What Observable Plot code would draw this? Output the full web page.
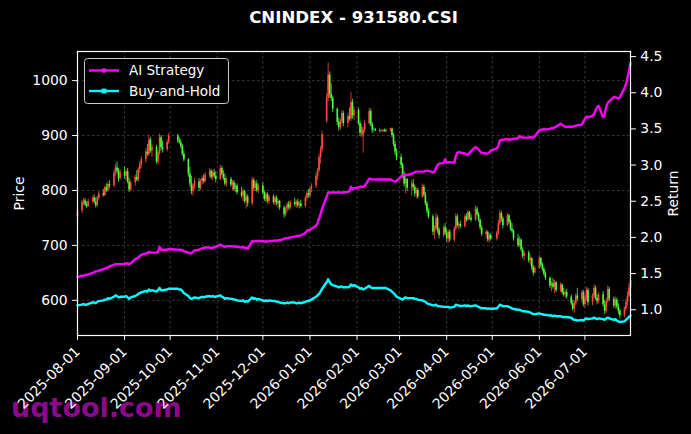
<!DOCTYPE html>
<html>
<head>
<meta charset="utf-8">
<script src="https://cdn.jsdelivr.net/npm/d3@7"></script>
<script src="https://cdn.jsdelivr.net/npm/@observablehq/plot@0.6"></script>
<style>
  html, body { margin: 0; padding: 0; background: #000; }
  #wrap { position: relative; width: 691px; height: 434px; overflow: hidden; background: #000; font-family: "DejaVu Sans", sans-serif; }
  #title { position: absolute; left: 77px; width: 553px; top: 8px; text-align: center; color: #fff; font-weight: bold; font-size: 16.6px; line-height: 20px; z-index: 3; }
  #wm { position: absolute; left: 11px; top: 391px; color: #8b0a8b; font-weight: bold; font-size: 27px; line-height: 34px; z-index: 1; }
  #chart { position: absolute; left: 0; top: 0; z-index: 2; }
  #legend { position: absolute; left: 84px; top: 58px; z-index: 4; }
</style>
</head>
<body>
<div id="wrap">
  <div id="wm">uqtool.com</div>
  <div id="chart"></div>
  <div id="title">CNINDEX - 931580.CSI</div>
  <div id="legend"></div>
</div>
<script>
// ---- data ----
const holidays = ["2025-10-01", "2025-10-02", "2025-10-03", "2026-05-01"];

const open = [
  752,763,778,781,774,771,780,786,779,772,786,794,791,805,800,811,808,832,841,835,822,
  833,826,834,815,801,814,824,819,838,848,856,870,866,892,872,878,852,868,896,878,874,888,
  899,890,887,880,866,856,830,812,798,808,816,804,817,822,816,828,835,824,832,826,
  820,840,830,822,812,820,810,814,802,808,796,790,798,780,788,776,818,804,812,800,
  808,796,784,792,780,788,778,786,776,780,768,756,766,774,768,778,774,779,772,776,771,786,794,
  790,802,808,826,836,860,874,926,968,1010,975,968,948,924,914,926,940,922,934,930,960,936,
  946,922,904,900,910,922,944,920,910,911,909,908,908,909,907,910,912,900,884,870,
  860,846,828,812,820,804,812,806,794,800,788,806,792,776,762,752,724,730,750,728,718,732,
  722,712,724,710,730,752,736,738,734,752,746,760,750,746,766,756,746,732,720,724,710,718,
  712,722,740,758,748,736,754,742,730,726,712,700,710,692,680,686,672,676,660,650,
  658,676,664,656,648,640,626,630,624,632,618,628,614,610,614,606,594,584,594,608,602,614,
  592,604,618,596,608,622,604,598,610,592,580,598,620,602,590,600,588,580,572,584,596,608,622
];
const high = [
  768,782,786,785,779,784,790,792,787,790,798,802,808,812,815,818,836,848,852,840,838,
  843,838,840,822,818,828,836,842,852,862,876,884,900,896,884,882,872,903,900,890,892,904,
  902,896,893,884,872,858,842,826,812,822,822,820,826,828,832,840,838,836,838,834,
  846,844,836,830,824,824,818,818,812,812,806,802,800,794,792,824,822,816,818,812,
  814,800,796,796,792,792,790,790,784,782,772,770,778,780,782,786,782,784,780,782,790,798,802,
  806,812,832,840,866,880,908,976,1032,1016,994,972,950,932,930,946,944,940,950,978,966,952,
  950,926,920,914,928,950,948,924,914,913,912,910,911,912,911,913,914,904,890,876,
  866,850,834,826,822,818,820,810,804,804,812,810,796,780,766,756,736,758,754,732,736,740,
  730,728,728,734,758,756,742,744,756,758,764,762,756,772,770,760,748,736,728,726,722,722,
  726,746,764,762,752,758,756,746,740,728,720,716,712,696,690,690,682,678,664,662,
  682,678,668,660,652,642,634,640,636,634,632,630,622,618,620,610,600,598,612,622,618,618,
  610,624,622,612,628,626,610,614,616,600,604,626,624,606,606,604,594,584,588,602,616,630,642
];
const low = [
  748,758,772,770,767,769,775,776,768,770,782,788,789,796,797,803,806,826,830,815,818,
  820,818,812,796,798,808,816,815,832,840,850,862,862,868,860,848,846,864,872,868,870,884,
  886,884,876,862,852,824,806,792,790,802,798,800,810,812,814,822,820,818,822,814,
  818,826,818,808,806,806,800,798,796,792,786,780,776,766,770,772,798,798,796,794,
  792,780,778,776,774,774,772,772,768,764,750,752,760,764,764,770,768,768,766,768,768,780,786,
  786,796,804,818,832,848,868,922,962,968,962,942,918,908,910,920,916,914,926,926,930,928,
  918,898,896,868,904,918,916,904,906,907,905,906,905,906,905,906,896,880,864,854,
  840,822,806,794,798,790,800,788,786,784,786,788,772,758,748,718,712,726,722,712,714,718,
  706,704,706,706,726,732,728,730,732,742,744,746,742,744,752,742,728,716,712,706,704,708,
  708,718,736,742,730,734,738,726,722,708,696,696,688,676,672,668,664,654,644,648,
  656,660,652,644,636,622,616,620,612,614,614,610,606,604,602,590,580,576,590,598,596,588,
  586,598,590,590,602,600,592,594,588,574,576,594,598,586,584,584,574,566,568,580,590,604,618
];
const close = [
  763,778,781,774,771,780,786,779,772,786,794,791,805,800,811,808,832,841,835,822,833,
  826,834,815,801,814,824,819,838,848,856,870,866,892,872,878,852,868,896,878,874,888,899,
  890,887,880,866,856,830,812,798,808,816,804,817,822,816,828,835,824,832,826,820,
  840,830,822,812,820,810,814,802,808,796,790,798,780,788,776,818,804,812,800,808,
  796,784,792,780,788,778,786,776,780,768,756,766,774,768,778,774,779,772,776,771,786,794,790,
  802,808,826,836,860,874,902,968,1010,975,968,948,924,914,926,940,922,934,930,960,936,946,
  922,904,916,910,922,944,920,910,911,909,908,908,909,907,910,912,900,884,870,860,
  846,828,812,820,804,812,806,794,800,788,806,792,776,762,752,724,730,750,728,718,732,722,
  712,724,710,730,752,736,738,734,752,746,760,750,746,766,756,746,732,720,724,710,718,712,
  722,740,758,748,736,754,742,730,726,712,700,710,692,680,686,672,676,660,650,658,
  676,664,656,648,640,626,630,624,632,618,628,614,610,614,606,594,584,594,608,602,614,592,
  604,618,596,608,622,604,598,610,592,580,598,620,602,590,600,588,580,572,584,596,608,622,636
];
const aiStrategy = [
  1.45,1.47,1.47,1.48,1.48,1.49,1.51,1.52,1.53,1.53,1.54,1.56,1.57,1.58,1.58,1.60,1.62,1.63,1.63,1.63,1.63,
  1.63,1.64,1.64,1.63,1.64,1.70,1.71,1.72,1.74,1.76,1.78,1.78,1.80,1.79,1.79,1.79,1.80,1.87,1.83,1.83,1.83,1.84,
  1.83,1.83,1.83,1.82,1.81,1.79,1.78,1.78,1.80,1.82,1.83,1.84,1.85,1.85,1.86,1.86,1.85,1.86,1.86,1.87,
  1.90,1.89,1.88,1.87,1.88,1.88,1.88,1.87,1.88,1.87,1.86,1.87,1.85,1.86,1.84,1.95,1.94,1.95,1.95,1.95,
  1.95,1.94,1.95,1.94,1.95,1.95,1.96,1.95,1.96,1.96,1.98,1.99,1.99,1.99,2.00,2.01,2.02,2.02,2.02,2.03,2.06,2.09,2.10,
  2.10,2.12,2.16,2.20,2.26,2.32,2.40,2.56,2.62,2.62,2.62,2.62,2.62,2.62,2.62,2.62,2.62,2.63,2.64,2.70,2.67,2.68,
  2.69,2.70,2.70,2.70,2.71,2.81,2.81,2.80,2.80,2.80,2.80,2.80,2.80,2.80,2.80,2.80,2.79,2.78,2.77,2.78,
  2.84,2.86,2.86,2.87,2.86,2.88,2.89,2.90,2.91,2.91,2.91,2.91,2.92,2.92,2.92,2.90,2.91,2.96,3.00,3.02,3.03,3.08,
  3.03,3.04,3.04,3.03,3.12,3.17,3.18,3.17,3.16,3.15,3.14,3.17,3.19,3.25,3.24,3.21,3.19,3.17,3.16,3.16,3.17,3.20,
  3.23,3.26,3.34,3.35,3.35,3.36,3.35,3.35,3.36,3.36,3.37,3.40,3.39,3.38,3.38,3.38,3.39,3.38,3.38,3.40,
  3.48,3.49,3.49,3.50,3.49,3.50,3.51,3.51,3.52,3.53,3.57,3.56,3.54,3.53,3.53,3.53,3.53,3.54,3.54,3.55,3.56,3.60,
  3.64,3.67,3.66,3.68,3.70,3.76,3.80,3.82,3.66,3.70,3.80,3.86,3.88,3.94,3.94,3.93,3.92,3.94,4.06,4.12,4.20,4.30,4.41
];
const buyHold = [
  1.06,1.07,1.08,1.07,1.07,1.08,1.10,1.10,1.09,1.11,1.12,1.13,1.14,1.14,1.16,1.15,1.18,1.20,1.19,1.17,1.18,
  1.18,1.19,1.17,1.15,1.17,1.19,1.20,1.22,1.23,1.24,1.26,1.25,1.28,1.26,1.27,1.25,1.27,1.30,1.27,1.27,1.28,1.29,
  1.29,1.28,1.28,1.26,1.23,1.19,1.16,1.15,1.16,1.17,1.16,1.17,1.18,1.17,1.18,1.19,1.18,1.19,1.18,1.18,
  1.20,1.18,1.17,1.15,1.16,1.15,1.15,1.14,1.14,1.13,1.12,1.13,1.11,1.12,1.11,1.17,1.15,1.16,1.14,1.15,
  1.13,1.12,1.13,1.12,1.13,1.12,1.12,1.11,1.11,1.10,1.09,1.09,1.10,1.09,1.10,1.10,1.09,1.09,1.10,1.09,1.11,1.12,1.12,
  1.13,1.14,1.18,1.20,1.22,1.25,1.29,1.38,1.42,1.38,1.35,1.34,1.32,1.31,1.32,1.32,1.31,1.31,1.32,1.35,1.33,1.34,
  1.31,1.29,1.30,1.28,1.29,1.33,1.31,1.30,1.30,1.30,1.30,1.30,1.30,1.30,1.30,1.27,1.25,1.23,1.21,1.18,
  1.15,1.14,1.16,1.17,1.16,1.16,1.16,1.15,1.15,1.14,1.13,1.12,1.11,1.09,1.08,1.06,1.06,1.07,1.05,1.05,1.04,1.04,
  1.04,1.04,1.03,1.04,1.07,1.06,1.06,1.05,1.06,1.05,1.06,1.05,1.05,1.06,1.05,1.04,1.03,1.02,1.02,1.01,1.02,1.01,
  1.02,1.04,1.07,1.06,1.05,1.05,1.04,1.03,1.02,1.01,1.00,1.00,0.99,0.98,0.98,0.97,0.96,0.95,0.94,0.94,
  0.95,0.94,0.94,0.93,0.93,0.92,0.92,0.91,0.92,0.91,0.91,0.90,0.90,0.90,0.90,0.89,0.87,0.86,0.86,0.85,0.86,0.85,
  0.87,0.88,0.87,0.88,0.89,0.88,0.87,0.88,0.87,0.86,0.88,0.89,0.88,0.86,0.87,0.85,0.84,0.83,0.84,0.86,0.88,0.90,0.92
];
const priceTicks = [600, 700, 800, 900, 1000];
const returnTicks = [1.0, 1.5, 2.0, 2.5, 3.0, 3.5, 4.0, 4.5];
const priceDomain = [536, 1053];
const returnDomain = [0.644, 4.57];

// ---- build ----
const fmtDay = d3.utcFormat("%Y-%m-%d");
const dates = d3.utcDay.range(new Date(Date.UTC(2025, 7, 1)), new Date(Date.UTC(2026, 7, 1)))
  .filter(d => d.getUTCDay() !== 0 && d.getUTCDay() !== 6 && !holidays.includes(fmtDay(d)));
const n = Math.min(dates.length, close.length);
const data = d3.range(n).map(i => ({
  date: dates[i], open: open[i], high: high[i], low: low[i], close: close[i],
  ai: aiStrategy[i], bh: buyHold[i]
}));
const monthTicks = d3.utcMonth.range(new Date(Date.UTC(2025, 7, 1)), new Date(Date.UTC(2026, 6, 2)));

// map returns onto the price scale (twin axis)
const k = (priceDomain[1] - priceDomain[0]) / (returnDomain[1] - returnDomain[0]);
const toY = r => priceDomain[0] + (r - returnDomain[0]) * k;
const fromY = y => returnDomain[0] + (y - priceDomain[0]) / k;

const RED = "#ff4a3d", GREEN = "#4dff3a";
const col = d => d.close >= d.open ? RED : GREEN;
const FS = 13.9;

const chart = Plot.plot({
  width: 691, height: 434,
  marginTop: 51, marginBottom: 99, marginLeft: 77, marginRight: 61,
  style: { background: "transparent", color: "white", fontFamily: "DejaVu Sans", fontSize: FS + "px" },
  x: { type: "utc", domain: [dates[0], dates[n - 1]] },
  y: { domain: priceDomain },
  marks: [
    Plot.gridX(monthTicks, { stroke: "#6a6a6a", strokeOpacity: 0.9, strokeWidth: 0.6, strokeDasharray: "2.5,2.5" }),
    Plot.gridY(priceTicks, { stroke: "#6a6a6a", strokeOpacity: 0.9, strokeWidth: 0.6, strokeDasharray: "2.5,2.5" }),
    Plot.ruleX(data, { x: "date", y1: "low", y2: "high", stroke: col, strokeWidth: 0.8 }),
    Plot.ruleX(data, { x: "date", y1: "open", y2: "close", stroke: col, strokeWidth: 1.6 }),
    Plot.line(data, { x: "date", y: d => toY(d.ai), stroke: "#ff00ff", strokeWidth: 2.4 }),
    Plot.line(data, { x: "date", y: d => toY(d.bh), stroke: "#00ffff", strokeWidth: 2.4 }),
    Plot.frame({ stroke: "white", strokeWidth: 1.2 }),
    Plot.axisX(monthTicks, { tickFormat: d3.utcFormat("%Y-%m-%d"), tickRotate: -45, tickSize: 4.9, tickPadding: 9, dx: 0, label: null, fontSize: FS }),
    Plot.axisY(priceTicks, { anchor: "left", tickSize: 4.9, tickPadding: 4.9, tickFormat: d3.format("d"), label: "Price", labelAnchor: "center", labelArrow: "none", labelOffset: 63, fontSize: FS }),
    Plot.axisY(returnTicks.map(toY), { anchor: "right", tickSize: 4.9, tickPadding: 4.9, tickFormat: y => fromY(y).toFixed(1), label: "Return", labelAnchor: "center", labelArrow: "none", labelOffset: 47, fontSize: FS })
  ]
});
document.getElementById("chart").appendChild(chart);

// ---- legend ----
const legendItems = [
  { label: "AI Strategy", color: "#ff00ff", marker: "circle" },
  { label: "Buy-and-Hold", color: "#00ffff", marker: "square" }
];
const lg = d3.select("#legend").append("svg").attr("width", 146).attr("height", 48);
lg.append("rect").attr("x", 0.5).attr("y", 0.5).attr("width", 144).attr("height", 45).attr("rx", 3)
  .attr("fill", "#000").attr("fill-opacity", 0.8).attr("stroke", "#cccccc").attr("stroke-width", 1);
legendItems.forEach((it, i) => {
  const cy = 12.5 + i * 20.5;
  lg.append("line").attr("x1", 5).attr("x2", 35).attr("y1", cy).attr("y2", cy).attr("stroke", it.color).attr("stroke-width", 2.4);
  if (it.marker === "circle") lg.append("circle").attr("cx", 20).attr("cy", cy).attr("r", 2.4).attr("fill", it.color);
  else lg.append("rect").attr("x", 17.6).attr("y", cy - 2.4).attr("width", 4.8).attr("height", 4.8).attr("fill", it.color);
  lg.append("text").attr("x", 45).attr("y", cy).attr("dy", "0.35em").attr("fill", "white")
    .attr("font-family", "DejaVu Sans").attr("font-size", 13.5).text(it.label);
});
</script>
</body>
</html>
